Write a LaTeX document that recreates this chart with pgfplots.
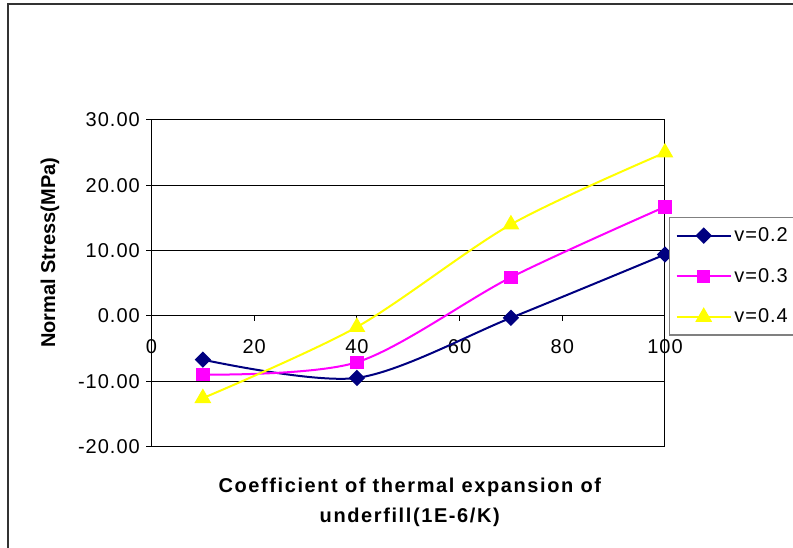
\documentclass[border=0pt]{standalone}
\usepackage{fontspec}
\setmainfont{Liberation Sans}
\newfontfamily\titlefont[LetterSpace=8]{Liberation Sans}
\newfontfamily\tickfont[LetterSpace=5]{Liberation Sans}
\usepackage{pgfplots}
\pgfplotsset{compat=1.18}
\definecolor{navyc}{HTML}{000080}
\definecolor{magc}{HTML}{FF00FF}
\definecolor{yelc}{HTML}{FFFF00}
\begin{document}
\begin{tikzpicture}
\draw[line width=1.1pt, draw=black!80] (6pt,408pt) rectangle (640pt,-30pt);
\begin{axis}[
  at={(113.625pt,76.125pt)}, anchor=south west,
  scale only axis, width=385.1pt, height=244.9pt,
  xmin=0, xmax=100, ymin=-20, ymax=30,
  axis x line=middle, axis y line=box,
  axis line style={-, line width=0.75pt, black},
  hide obscured x ticks=false,
  clip=false,
  xtick={0,20,40,60,80,100},
  ytick={-20,-10,0,10,20,30},
  ytick pos=left,
  ymajorgrids,
  major grid style={black, line width=0.75pt},
  tick align=outside,
  major tick length=3.75pt,
  tick style={black, line width=0.75pt},
  /pgf/number format/assume math mode=true,
  ticklabel style={font=\tickfont\fontsize{15}{18}\selectfont},
  xticklabel style={yshift=-10.5pt},
  yticklabel style={xshift=-1.5pt, /pgf/number format/fixed, /pgf/number format/fixed zerofill, /pgf/number format/precision=2},
  xlabel={Coefficient of thermal expansion of\\underfill(1E-6/K)},
  xlabel style={align=center, inner sep=0pt, at={(axis description cs:0.503,-0.095)}, anchor=north,
    font=\titlefont\bfseries\fontsize{15}{22.5}\selectfont},
  ylabel={Normal Stress(MPa)},
  ylabel style={at={(axis description cs:-0.198,0.593)}, anchor=center,
    font=\bfseries\fontsize{15}{18}\selectfont},
  legend style={at={(axis description cs:1.0078,0.703)}, anchor=north west,
    draw=gray, line width=1.1pt, fill=white,
    inner xsep=4.5pt, inner ysep=5.5pt, row sep=14.5pt,
    font=\tickfont\fontsize{15}{18}\selectfont},
  legend cell align=left,
  legend image code/.code={\draw[mark repeat=2,mark phase=2] plot coordinates {(0pt,0pt) (20.25pt,0pt) (40.5pt,0pt)};},
]
\addplot[color=navyc, line width=1.5pt, smooth, mark=square*, mark size=3.6pt,
  mark options={rotate=45, solid, fill=navyc}] coordinates {
  (10,-6.7) (40,-9.5) (70,-0.3) (100,9.4)};
\addlegendentry{v=0.2}
\addplot[color=magc, line width=1.5pt, smooth, mark=square*, mark size=4.3pt,
  mark options={solid, fill=magc}] coordinates {
  (10,-9.0) (40,-7.1) (70,5.9) (100,16.7)};
\addlegendentry{v=0.3}
\addplot[color=yelc, line width=1.5pt, smooth, mark=triangle*, mark size=5.8pt,
  mark options={solid, fill=yelc}] coordinates {
  (10,-12.6) (40,-1.7) (70,14.0) (100,25.0)};
\addlegendentry{v=0.4}
\end{axis}
\pgfresetboundingbox
\path[use as bounding box] (0pt,0pt) rectangle (594.75pt,411pt);
\end{tikzpicture}
\end{document}
